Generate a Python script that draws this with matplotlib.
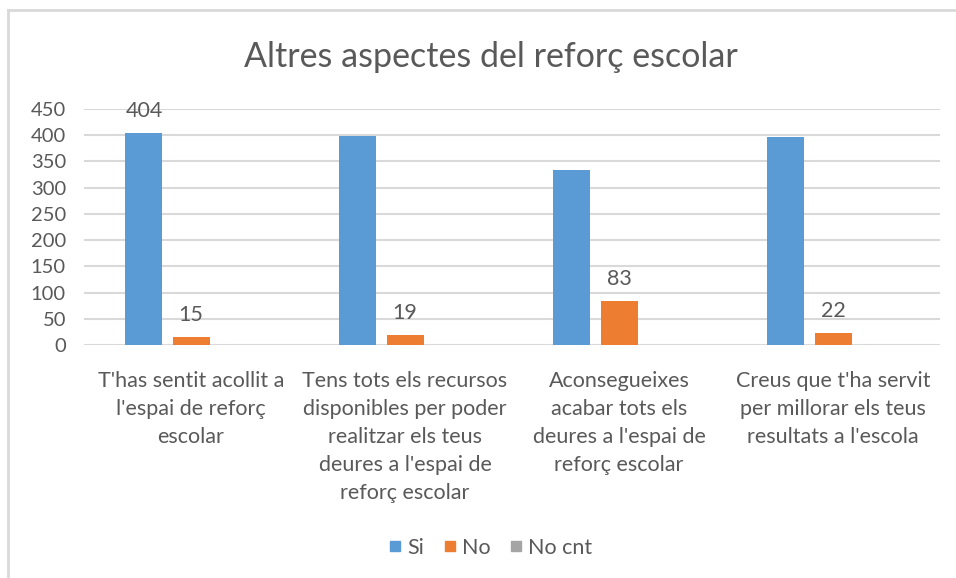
""" Altres aspectes del reforç escolar - grouped bar chart """

import numpy as np
import matplotlib
matplotlib.use('Agg')
from matplotlib import pyplot as plt
from matplotlib.lines import Line2D

plt.rcParams['font.family'] = ['Lato', 'DejaVu Sans']

categories = ["T'has sentit acollit a\nl'espai de reforç\nescolar",
              "Tens tots els recursos\ndisponibles per poder\nrealitzar els teus\ndeures a l'espai de\nreforç escolar",
              "Aconsegueixes\nacabar tots els\ndeures a l'espai de\nreforç escolar",
              "Creus que t'ha servit\nper millorar els teus\nresultats a l'escola"]
series_names = ['Si', 'No', 'No cnt']
si_values = [404, 399, 333, 396]
no_values = [15, 19, 83, 22]
nocnt_values = [0, 0, 0, 0]
# which bars carry a data label in the original
si_shown = [True, False, False, False]
no_shown = [True, True, True, True]
nocnt_shown = [False, False, False, False]
y_ticks = [0, 50, 100, 150, 200, 250, 300, 350, 400, 450]

COLORS = ['#5B9BD5', '#ED7D31', '#A5A5A5']
TXT = '#595959'
GRID = '#D9D9D9'

fig = plt.figure(figsize=(9.56, 5.78), dpi=100)
ax = fig.add_axes([0.0879, 0.4031, 0.8954, 0.4083])

x = np.arange(len(categories))
width = 0.173
step = 0.22
all_values = [si_values, no_values, nocnt_values]
all_shown = [si_shown, no_shown, nocnt_shown]
for i, (vals, shown) in enumerate(zip(all_values, all_shown)):
    bars = ax.bar(x + (i - 1) * step, vals, width, color=COLORS[i], zorder=3)
    for b, v, s in zip(bars, vals, shown):
        if s:
            ax.annotate(str(v), (b.get_x() + b.get_width() / 2, v),
                        xytext=(0, 9), textcoords='offset points',
                        ha='center', va='bottom', fontsize=15.5, color=TXT)

ax.set_xlim(-0.5, len(categories) - 0.5)
ax.set_ylim(0, 450)
ax.set_yticks(y_ticks)
ax.yaxis.grid(True, color=GRID, linewidth=1.5, zorder=0)
ax.set_xticks(x)
ax.set_xticklabels(categories, fontsize=15.5, color=TXT, linespacing=1.5)
ax.tick_params(axis='y', labelsize=14.5)
ax.tick_params(axis='both', length=0, labelcolor=TXT)
ax.tick_params(axis='x', pad=19)
ax.tick_params(axis='y', pad=13)
for sp in ax.spines.values():
    sp.set_visible(False)

fig.text(0.513, 0.884, 'Altres aspectes del reforç escolar',
         ha='center', va='baseline', fontsize=24.5, color=TXT)

handles = [Line2D([], [], marker='s', linestyle='none', markersize=7.5,
                  markerfacecolor=c, markeredgecolor=c) for c in COLORS]
fig.legend(handles, series_names, loc='center', bbox_to_anchor=(0.513, 0.052),
           ncol=3, frameon=False, fontsize=15.5, labelcolor=TXT,
           handlelength=0.6, handletextpad=0.25, columnspacing=0.9)

# chart area border (top and left edges visible in the crop)
fig.add_artist(Line2D([0.0084, 1.0], [0.9827, 0.9827], color=GRID, linewidth=2))
fig.add_artist(Line2D([0.0084, 0.0084], [0.0, 0.9827], color=GRID, linewidth=2))

fig.savefig('out.png', dpi=100, facecolor='white')
